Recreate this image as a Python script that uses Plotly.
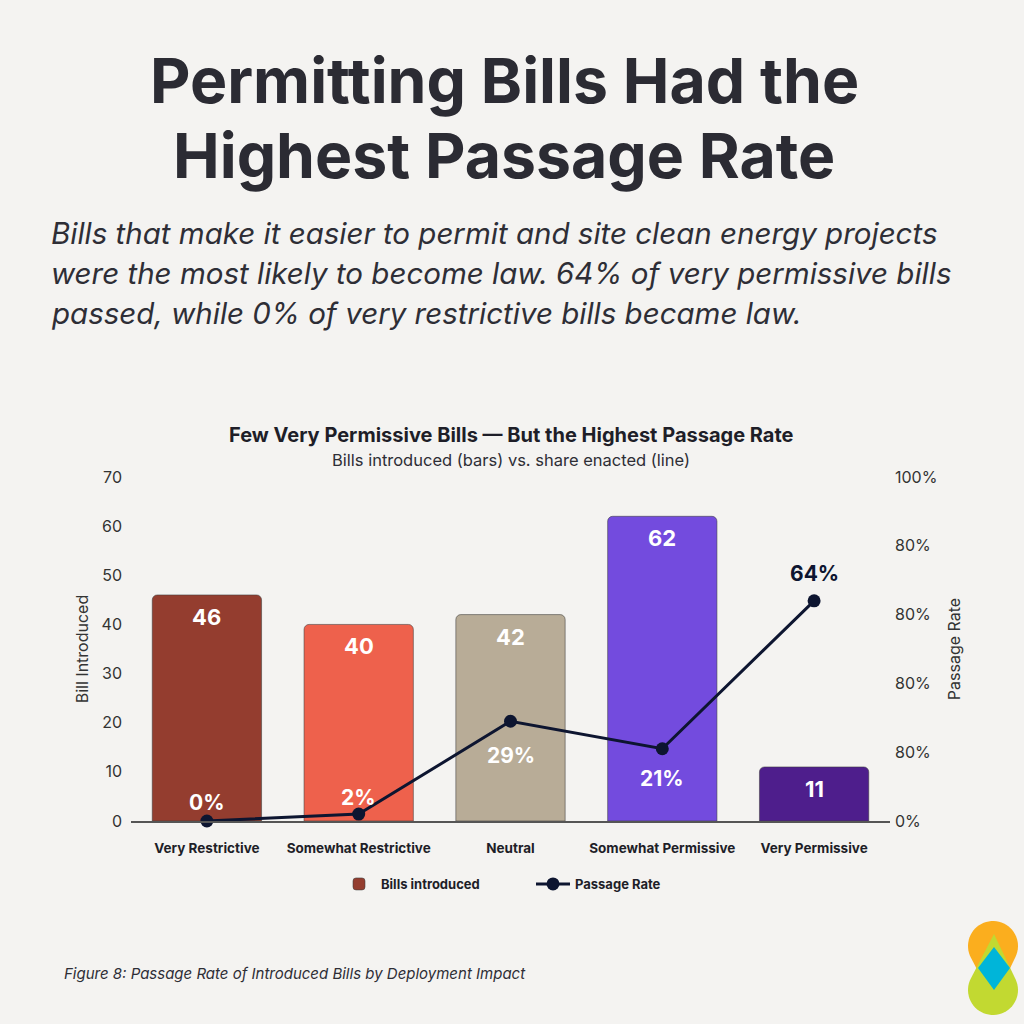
import numpy as np
import plotly.graph_objects as go

# data
categories = ["Very Restrictive", "Somewhat Restrictive", "Neutral",
              "Somewhat Permissive", "Very Permissive"]
bills_introduced = [46, 40, 42, 62, 11]
passage_rate = [0, 2, 29, 21, 64]
rate_labels = ["0%", "2%", "29%", "21%", "64%"]
bar_colors = ["#943D2F", "#EE614C", "#B8AC97", "#734BDE", "#4E1E8C"]

left_ticks = [0, 10, 20, 30, 40, 50, 60, 70]
right_tickvals = [0, 20, 40, 60, 80, 100]
right_ticktext = ["0%", "80%", "80%", "80%", "80%", "100%"]

BG = "#F4F3F1"
INK = "#2B2B33"
NAVY = "#0D1530"

# plot area in pixels
L, R, T, B = 131, 890, 477, 821
W = H = 1024


def px_x(x):
    return (x - L) / (R - L)


def px_y(y):
    return (B - y) / (B - T)


fig = go.Figure()

fig.add_trace(
    go.Bar(
        x=categories,
        y=bills_introduced,
        name="Bills introduced",
        marker=dict(color=bar_colors, line=dict(color="rgba(60,60,60,0.55)", width=1)),
        hoverinfo="skip",
    )
)

fig.add_trace(
    go.Scatter(
        x=categories,
        y=passage_rate,
        yaxis="y2",
        name="Passage Rate",
        mode="lines+markers",
        line=dict(color=NAVY, width=3),
        marker=dict(color=NAVY, size=13),
        cliponaxis=False,
        hoverinfo="skip",
    )
)

# value labels on bars
for c, v in zip(categories, bills_introduced):
    fig.add_annotation(
        x=c, y=v, xref="x", yref="y", yshift=-22, showarrow=False,
        text=f"<b>{v}</b>", font=dict(family="Inter", size=22, color="white"),
    )

# rate labels next to the line points
rate_shift = [19, 17, -34, -30, 27]
rate_color = ["white", "white", "white", "white", NAVY]
for c, v, t, s, col in zip(categories, passage_rate, rate_labels, rate_shift, rate_color):
    fig.add_annotation(
        x=c, y=v, xref="x", yref="y2", yshift=s, showarrow=False,
        text=f"<b>{t}</b>", font=dict(family="Inter", size=21, color=col),
    )

fig.update_layout(
    width=W,
    height=H,
    paper_bgcolor=BG,
    plot_bgcolor=BG,
    margin=dict(l=L, r=W - R, t=T, b=H - B),
    bargap=0.28,
    barcornerradius=5,
    showlegend=True,
    legend=dict(
        orientation="h",
        x=px_x(531),
        xanchor="center",
        y=px_y(884),
        yanchor="middle",
        font=dict(family="Inter", size=13, color="#1E1E28", weight="bold"),
        bgcolor="rgba(0,0,0,0)",
        itemwidth=34,
        entrywidth=145,
        traceorder="normal",
    ),
    xaxis=dict(
        showgrid=False,
        showline=True,
        linecolor="#555555",
        linewidth=2,
        ticks="",
        ticklabelstandoff=14,
        tickfont=dict(family="Inter", size=13.5, color="#1E1E28", weight="bold"),
    ),
    yaxis=dict(
        range=[0, 70],
        tickvals=left_ticks,
        showgrid=False,
        zeroline=False,
        tickfont=dict(family="Inter", size=16, color="#333333"),
        title=dict(text="Bill Introduced", font=dict(family="Inter", size=16, color="#333333"),
                   standoff=8),
        ticklabelstandoff=8,
    ),
    yaxis2=dict(
        range=[0, 100],
        overlaying="y",
        side="right",
        tickvals=right_tickvals,
        ticktext=right_ticktext,
        showgrid=False,
        zeroline=False,
        tickfont=dict(family="Inter", size=16, color="#333333"),
        title=dict(text="Passage Rate", font=dict(family="Inter", size=16, color="#333333"),
                   standoff=12),
        ticklabelstandoff=4,
    ),
)

annotations = [
    dict(text="<b>Permitting Bills Had the</b>", x=px_x(504), y=px_y(80), size=62.5,
         color=INK, xanchor="center"),
    dict(text="<b>Highest Passage Rate</b>", x=px_x(504), y=px_y(155), size=62.5,
         color=INK, xanchor="center"),
    dict(text="<i>Bills that make it easier to permit and site clean energy projects</i>",
         x=px_x(49), y=px_y(233), size=29.5, color="#2E2E36", xanchor="left"),
    dict(text="<i>were the most likely to become law. 64% of very permissive bills</i>",
         x=px_x(49), y=px_y(273), size=29.5, color="#2E2E36", xanchor="left"),
    dict(text="<i>passed, while 0% of very restrictive bills became law.</i>",
         x=px_x(49), y=px_y(313), size=29.5, color="#2E2E36", xanchor="left"),
    dict(text="<b>Few Very Permissive Bills — But the Highest Passage Rate</b>",
         x=px_x(511), y=px_y(435), size=20, color="#1E1E28", xanchor="center"),
    dict(text="Bills introduced (bars) vs. share enacted (line)",
         x=px_x(511), y=px_y(460), size=16.5, color="#2E2E36", xanchor="center"),
    dict(text="<i>Figure 8: Passage Rate of Introduced Bills by Deployment Impact</i>",
         x=px_x(62), y=px_y(973), size=15, color="#2E2E36", xanchor="left"),
]
for a in annotations:
    fig.add_annotation(
        text=a["text"], x=a["x"], y=a["y"], xref="paper", yref="paper",
        xanchor=a["xanchor"], yanchor="middle", showarrow=False,
        font=dict(family="Inter", size=a["size"], color=a["color"]),
    )


# logo in the bottom right corner (decoration)
def drop_path(cx, cy, r, tipx, tipy):
    d = np.hypot(tipx - cx, tipy - cy)
    base = np.arctan2(tipy - cy, tipx - cx)
    off = np.arccos(r / d)
    angs = np.linspace(base + off, base + 2 * np.pi - off, 40)
    pts = [(tipx, tipy)] + [(cx + r * np.cos(a), cy + r * np.sin(a)) for a in angs]
    return "M " + " L ".join(f"{px_x(x):.5f},{px_y(y):.5f}" for x, y in pts) + " Z"


def poly_path(pts):
    return "M " + " L ".join(f"{px_x(x):.5f},{px_y(y):.5f}" for x, y in pts) + " Z"


fig.add_shape(type="path", xref="paper", yref="paper",
              path=drop_path(993, 946, 25, 994, 1002), fillcolor="#FBAE1E", line_width=0)
fig.add_shape(type="path", xref="paper", yref="paper",
              path=drop_path(993, 990, 25, 994, 934), fillcolor="#C2D931", line_width=0)
fig.add_shape(type="path", xref="paper", yref="paper",
              path=poly_path([(994, 947), (1010, 968), (994, 990), (978, 968)]),
              fillcolor="#00B5D9", line_width=0)

fig.write_html(
    "out.html",
    config={"displayModeBar": False},
    post_script="document.body.style.margin='0';document.body.style.background='" + BG + "';",
)
